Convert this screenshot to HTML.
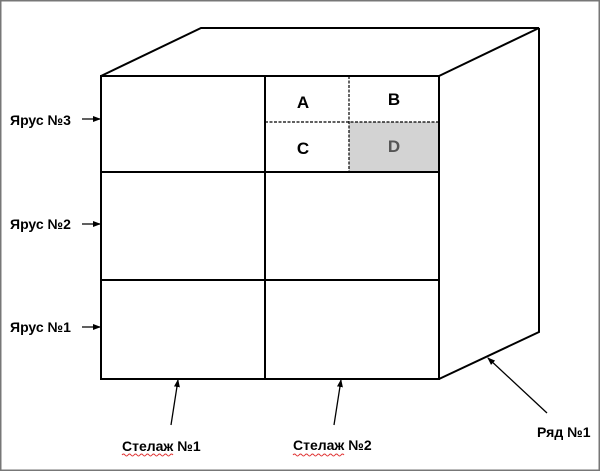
<!DOCTYPE html>
<html><head><meta charset="utf-8"><style>
html,body{margin:0;padding:0;background:#fff}
svg{display:block}
text{font-family:"Liberation Sans",sans-serif;font-weight:bold}
</style></head><body>
<svg width="600" height="471" viewBox="0 0 600 471" xmlns="http://www.w3.org/2000/svg">
<defs><marker id="a" markerWidth="8" markerHeight="8" refX="7" refY="4" orient="auto" markerUnits="userSpaceOnUse"><path d="M0,1 L8,4 L0,7 Z" fill="#000"/></marker></defs>
<rect x="0.5" y="0.5" width="599" height="470" fill="#fff" stroke="#777" stroke-width="2"/>
<rect x="349" y="122" width="90" height="50" fill="#d3d3d3"/>
<g stroke="#000" stroke-width="2" fill="none">
<polyline points="101,76 201,28 539,28 439,76"/>
<polyline points="539,28 539,332 439,379"/>
<rect x="101" y="76" width="338" height="303"/>
<line x1="265" y1="76" x2="265" y2="379"/>
<line x1="101" y1="172" x2="439" y2="172"/>
<line x1="101" y1="280" x2="439" y2="280"/>
</g>
<g stroke="#000" stroke-width="1.2" stroke-dasharray="3,1.5">
<line x1="349" y1="76" x2="349" y2="172"/>
<line x1="265" y1="122" x2="439" y2="122"/>
</g>
<g font-size="17" text-anchor="middle">
<text x="303" y="108">A</text>
<text x="394" y="105">B</text>
<text x="303" y="154">C</text>
<text x="394" y="152" fill="#555">D</text>
</g>
<g font-size="14">
<text x="10" y="125">Ярус №3</text>
<text x="10" y="229">Ярус №2</text>
<text x="10" y="332">Ярус №1</text>
<text x="122" y="451">Стелаж №1</text>
<text x="293" y="450">Стелаж №2</text>
<text x="537" y="437">Ряд №1</text>
</g>
<g stroke="#000" stroke-width="1.3" marker-end="url(#a)">
<line x1="82" y1="119" x2="100" y2="119"/>
<line x1="82" y1="224" x2="100" y2="224"/>
<line x1="82" y1="327" x2="100" y2="327"/>
<line x1="171" y1="425" x2="178" y2="380"/>
<line x1="334" y1="425" x2="341" y2="380"/>
<line x1="547" y1="413" x2="488" y2="358"/>
</g>
<g stroke="#e03030" stroke-width="1" fill="none">
<path d="M122,455 q1.5,-2 3,0 t3,0 t3,0 t3,0 t3,0 t3,0 t3,0 t3,0 t3,0 t3,0 t3,0 t3,0 t3,0 t3,0 t3,0 t3,0 t3,0"/>
<path d="M293,455 q1.5,-2 3,0 t3,0 t3,0 t3,0 t3,0 t3,0 t3,0 t3,0 t3,0 t3,0 t3,0 t3,0 t3,0 t3,0 t3,0 t3,0 t3,0"/>
</g>
</svg>
</body></html>
